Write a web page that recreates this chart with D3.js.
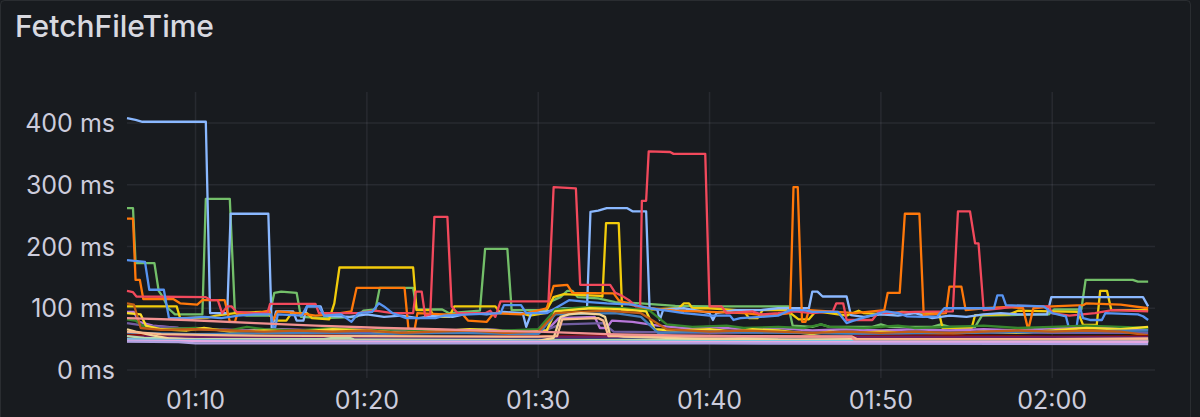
<!DOCTYPE html>
<html>
<head>
<meta charset="utf-8">
<script src="https://cdn.jsdelivr.net/npm/d3@7"></script>
<style>
  html, body { margin: 0; padding: 0; background: #181b1f; }
  svg { display: block; }
  text { font-family: Inter, "Noto Sans", sans-serif; }
</style>
</head>
<body>
<div id="viz"></div>
<script>
// time values are minutes after 01:00, values are ms
const yTicks = [0, 100, 200, 300, 400];

const green = [[6,262],[6.35,262],[6.5,173],[7.6,173],[7.85,128],[8.1,118],[8.4,100],[8.8,90],[10.4,90],[10.6,277],[12.0,277],[12.3,92],[13.0,88],[14.3,88],[14.6,125],[15.0,127],[15.9,125],[16.15,86],[17.5,84],[19.4,86],[19.8,96],[20.5,98],[20.75,133],[22.7,133],[22.9,98],[24.4,98],[24.8,92],[26.6,96],[26.9,196],[28.2,196],[28.45,97],[30.4,97],[30.8,112],[31.3,118],[31.7,128],[32.0,128],[32.3,118],[33.5,116],[34.5,110],[36,108],[38,104],[40,103],[44.6,103],[44.85,72],[46,70],[46.5,74],[47,70],[49.5,70],[50,74],[50.5,70],[53,70],[53.5,74],[54,70],[55.5,70],[55.9,88],[57.5,89],[59.8,90],[60.1,98],[61.7,98],[61.95,146],[64.7,146],[65.0,143],[65.6,143]];

const yellow = [[6,103],[8.9,103],[9.1,84],[10.7,85],[11.2,88],[12.3,92],[13.8,94],[14.3,90],[14.6,80],[15.3,80],[15.6,92],[16.5,92],[16.8,84],[17.8,82],[18.1,108],[18.4,166],[22.7,166],[22.9,97],[23.7,97],[23.95,86],[24.8,86],[25.1,103],[27.5,103],[27.8,92],[29.0,92],[29.5,88],[30.4,92],[30.9,118],[31.5,123],[33.6,120],[33.75,119],[33.96,238],[34.7,238],[34.9,97],[36.5,98],[38.2,100],[38.5,108],[38.8,108],[39.0,100],[40,100],[42,96],[42.3,84],[42.8,84],[43.1,97],[44.5,97],[45.2,82],[45.8,82],[46.2,95],[47,92],[48,88],[48.7,96],[49.0,92],[50.5,90],[51.2,94],[53.4,92],[53.6,68],[55.3,68],[55.5,89],[57.5,90],[58.0,96],[60,95],[61.5,94],[61.8,73],[62.6,73],[62.8,128],[63.2,128],[63.45,97],[65.6,97]];

const lightBlue = [[6,408],[6.5,405],[6.9,402],[10.6,402],[10.85,92],[11.85,92],[12.05,253],[14.25,253],[14.45,65],[14.7,95],[15.7,95],[15.9,80],[16.3,80],[16.5,103],[17.3,103],[17.5,88],[19,86],[20,90],[21,86],[22,88],[23,84],[24,88],[25,86],[26,92],[27,90],[28,94],[29.1,92],[29.3,70],[29.6,92],[30.5,95],[31.5,100],[32.85,100],[33.05,256],[33.5,258],[34,262],[35.2,262],[35.5,257],[36.3,257],[36.5,100],[36.95,98],[37.1,81],[37.3,98],[38.5,100],[39.5,95],[40,92],[40.2,81],[40.4,92],[41.5,97],[43,97],[44,100],[45.8,100],[46.0,127],[46.3,127],[46.6,119],[48.0,119],[48.25,89],[49,86],[50,90],[51,88],[52,92],[53,84],[54,88],[55,86],[56,90],[57,92],[58,90],[59.7,90],[59.95,118],[65.3,118],[65.6,103]];

const orange = [[6,245],[6.35,245],[6.5,146],[6.75,146],[6.95,115],[8.7,115],[9.1,108],[10.1,106],[10.4,113],[11.7,113],[12.0,78],[12.3,78],[12.45,92],[13.5,92],[14.3,96],[14.5,80],[14.8,95],[16,92],[17,88],[18,90],[19.1,95],[19.4,133],[22.2,133],[22.45,60],[22.75,60],[22.95,92],[24.5,90],[25.6,90],[25.9,80],[27,78],[27.4,92],[29,90],[30.5,100],[30.9,136],[31.7,138],[32.0,125],[34.4,124],[34.7,113],[35.5,105],[36.5,100],[38,96],[40,94],[42,92],[43.5,88],[44.7,92],[44.9,296],[45.15,296],[45.4,78],[45.6,78],[45.8,97],[47,95],[48.5,92],[50.2,97],[50.4,125],[51.1,125],[51.4,253],[52.25,253],[52.5,89],[53.8,92],[54.0,135],[54.7,135],[54.95,97],[56,100],[57.5,102],[58.3,100],[58.6,65],[58.9,100],[60,103],[61.8,105],[62,108],[64,106],[65.6,100]];

const red = [[6,128],[6.35,126],[6.55,119],[10.6,118],[10.9,113],[11.3,113],[11.55,92],[11.85,103],[12.1,103],[12.4,94],[13.5,92],[14.2,92],[14.35,107],[17.0,107],[17.2,92],[19.5,92],[20.5,96],[21.5,92],[22.7,92],[22.85,127],[23.2,127],[23.4,88],[23.7,90],[23.94,248],[24.7,248],[24.95,103],[25.3,92],[26.9,92],[27.2,96],[27.5,86],[27.8,111],[30.6,111],[30.9,296],[32.2,294],[32.45,138],[34.2,138],[34.5,125],[34.9,120],[35.3,113],[35.7,103],[35.95,103],[36.05,274],[36.3,274],[36.45,354],[37.7,353],[37.9,350],[39.75,350],[40.0,103],[40.7,103],[41.0,92],[42.5,95],[43,90],[44,92],[45,95],[46,92],[47.2,95],[47.4,108],[47.8,108],[48.0,81],[49.5,81],[49.9,95],[50.1,92],[52,94],[54.2,95],[54.5,257],[55.2,257],[55.5,205],[55.7,205],[56.0,97],[57,100],[58,104],[59.8,103],[60,92],[61,88],[62.5,92],[63.5,97],[65.6,95]];

const blue = [[6,178],[7.05,175],[7.3,130],[8.15,130],[8.45,84],[9.5,84],[10.5,86],[11.5,84],[12.5,88],[13.5,90],[14.4,90],[14.6,62],[14.8,90],[16.2,88],[16.5,103],[17.2,103],[17.5,88],[18.5,90],[19.1,78],[19.5,92],[20.3,94],[20.7,108],[21.0,103],[21.5,92],[22.3,84],[24,84],[24.5,88],[26,90],[27.8,92],[28.0,105],[29.0,105],[29.3,92],[30.5,92],[31.0,100],[31.8,113],[33,110],[34,108],[35.5,106],[36.5,100],[37.5,96],[38.5,92],[40,88],[41.2,88],[41.4,81],[41.8,84],[43,86],[44,88],[44.7,97],[45.5,97],[46,94],[47.5,94],[48.0,76],[48.4,80],[50.3,95],[51,92],[51.5,87],[52.5,86],[53.3,87],[53.7,100],[56.6,100],[56.8,121],[57.1,121],[57.3,105],[59.5,103],[60,92],[60.8,87],[61.0,65],[61.4,65],[61.6,103],[61.8,84],[62.2,81],[62.9,81],[63.1,92],[65,90],[65.3,87],[65.6,81]];

const purple = [[6,94],[6.4,94],[6.7,78],[7.5,72],[9,68],[11,66],[13,64],[15,66],[17,64],[19,66],[21,63],[23,66],[25,64],[27,66],[29,62],[30.5,64],[31.2,84],[33.3,86],[33.6,68],[34.0,68],[34.3,80],[35.5,78],[37,72],[38.5,68],[40,70],[42,66],[44,68],[46,64],[48,66],[50,64],[52,66],[54,64],[56,66],[58,64],[60,68],[62,70],[63,68],[65.6,66]];

const violet = [[6,76],[7,72],[9,68],[12,64],[16,62],[20,61],[25,60],[30,60],[31.3,74],[33.8,76],[34.4,62],[40,60],[45,61],[50,60],[55,61],[60,60],[65.6,60]];

const darkGreen = [[6,82],[6.5,80],[7,70],[8,66],[10,68],[12,64],[13,70],[14,66],[16,64],[18,68],[20,64],[22,66],[24,62],[26,66],[28,64],[30,66],[31,98],[33,102],[35,100],[36.5,96],[37.5,74],[39,70],[41,72],[42,68],[44,70],[45.5,68],[46.5,74],[47,70],[49,68],[51,72],[52,68],[54,70],[56,72],[58,68],[60,70],[62,72],[64,70],[65.6,68]];

const lightYellow = [[6,92],[6.8,90],[7.1,72],[8,66],[9.5,64],[10.5,68],[12,62],[14,64],[16,62],[18,66],[20,64],[22,60],[24,62],[26,66],[27.5,64],[29,60],[30.5,64],[31,95],[33,100],[35,98],[36.3,95],[36.8,66],[38,64],[40,66],[41.5,62],[42.5,66],[44,64],[46,58],[47,62],[48.5,60],[50,62],[52,60],[54,58],[56,62],[58,60],[60,64],[62,68],[64,66],[65.6,70]];

const steelBlue = [[6,60],[10,58],[15,60],[20,58],[25,60],[30,58],[31,90],[34.5,92],[36,86],[37,60],[40,62],[45,60],[50,58],[55,60],[60,62],[65.6,64]];

const darkOrange = [[6,108],[6.4,106],[6.8,68],[8,65],[10,66],[12,64],[14,62],[16,64],[18,62],[20,64],[22,60],[24,62],[26,64],[28,60],[30,62],[31,92],[34,96],[36,92],[37.5,66],[40,62],[42,64],[44,62],[46,60],[48,62],[50,60],[52,62],[54,60],[56,62],[58,64],[60,62],[62,64],[64,62],[65.6,56]];

const darkRed = [[6,57],[12,55],[18,56],[24,54],[30,55],[36,56],[42,54],[48,55],[54,56],[60,54],[65.6,55]];
const darkBlue = [[6,52],[15,51],[30,52],[45,51],[65.6,52]];
const plum = [[6,54],[20,53],[40,54],[65.6,53]];
const dusk = [[6,50],[30,49],[65.6,50]];
const paleGreen = [[6,55],[7,52],[10,50],[17.5,50],[18,52],[19,52],[19.3,49],[30,48],[40,49],[42,51],[44,49],[65.6,48]];
const beige = [[6,66],[6.5,62],[7.5,56],[8.5,51],[10,49],[20,48],[30,47],[30.9,52],[31.3,86],[31.8,90],[32.5,92],[33.6,90],[33.9,86],[34.2,57],[35,54],[40,50],[45,49],[48.3,50],[50,48],[60,47],[65.6,47]];
const cyan = [[6,50],[10,47],[30,46],[50,47],[65.6,46]];
const peach = [[6,62],[8,58],[12,56],[20,55],[30,54],[31.1,55],[31.4,82],[33.5,84],[33.8,80],[34.1,55],[40,54],[48.3,54],[48.6,50],[60,50],[65.6,51]];
const pink = [[6,84],[9.5,81],[13.5,76],[17,72],[21,68],[24,66],[28,63],[30,62],[34,58],[38,56],[42,55],[48.3,54],[48.5,47],[62,47],[65.6,47]];
const sky = [[6,49],[20,47],[40,46],[65.6,46]];
const orchid = [[6,47],[20,46],[40,45],[65.6,45]];
const lavender = [[6,46],[9,45],[10,43],[30,43],[40,43],[65.6,42]];

const series = [
  { data: green, color: "#73BF69" },
  { data: yellow, color: "#F2CC0C" },
  { data: lightBlue, color: "#8AB8FF" },
  { data: orange, color: "#FF780A" },
  { data: red, color: "#F2495C" },
  { data: blue, color: "#5794F2" },
  { data: purple, color: "#B877D9" },
  { data: violet, color: "#705DA0" },
  { data: darkGreen, color: "#37872D" },
  { data: lightYellow, color: "#FADE2A" },
  { data: steelBlue, color: "#447EBC" },
  { data: darkOrange, color: "#C15C17" },
  { data: darkRed, color: "#890F02" },
  { data: darkBlue, color: "#0A437C" },
  { data: plum, color: "#6D1F62" },
  { data: dusk, color: "#584477" },
  { data: paleGreen, color: "#B7DBAB" },
  { data: beige, color: "#F4D598" },
  { data: cyan, color: "#70DBED" },
  { data: peach, color: "#F9BA8F" },
  { data: pink, color: "#F29191" },
  { data: sky, color: "#82B5D8" },
  { data: orchid, color: "#E5A8E2" },
  { data: lavender, color: "#AEA2E0" }
];

document.addEventListener("DOMContentLoaded", () => {

    const width = 1200;
    const height = 417;

    const svg = d3.select("#viz").append("svg")
        .attr("width", width)
        .attr("height", height);

    svg.append("rect")
        .attr("width", width)
        .attr("height", height)
        .attr("fill", "#181b1f");

    // panel border
    svg.append("rect")
        .attr("x", 0.5).attr("y", 0.5)
        .attr("width", 1190).attr("height", 440)
        .attr("rx", 4)
        .attr("fill", "none")
        .attr("stroke", "rgba(204,204,220,0.10)");

    svg.append("text")
        .attr("x", 15).attr("y", 37)
        .attr("font-size", 30)
        .attr("font-weight", 500)
        .attr("fill", "#d8d9e0")
        .text("FetchFileTime");

    const base = new Date(2024, 0, 1, 1, 0, 0);
    const toDate = m => new Date(base.getTime() + m * 60000);

    const x = d3.scaleTime()
        .domain([toDate(6), toDate(66)])
        .range([127, 1155]);

    const y = d3.scaleLinear()
        .domain([0, 400])
        .range([370, 123]);

    const grid = svg.append("g").attr("stroke", "rgba(204,204,220,0.09)").attr("stroke-width", 1.5);
    const xTicks = x.ticks(d3.timeMinute.every(10));

    grid.selectAll(".h").data(yTicks).enter().append("line")
        .attr("x1", 127).attr("x2", 1155)
        .attr("y1", d => y(d)).attr("y2", d => y(d));

    grid.selectAll(".v").data(xTicks).enter().append("line")
        .attr("x1", d => x(d)).attr("x2", d => x(d))
        .attr("y1", 92).attr("y2", 378);

    svg.selectAll(".ylab").data(yTicks).enter().append("text")
        .attr("x", 115)
        .attr("y", d => y(d))
        .attr("dy", "0.36em")
        .attr("text-anchor", "end")
        .attr("font-size", 25)
        .attr("fill", "#ccccdc")
        .text(d => d + " ms");

    svg.selectAll(".xlab").data(xTicks).enter().append("text")
        .attr("x", d => x(d))
        .attr("y", 409)
        .attr("text-anchor", "middle")
        .attr("font-size", 25)
        .attr("fill", "#ccccdc")
        .text(d => d3.timeFormat("%H:%M")(d));

    const line = d3.line()
        .x(d => x(toDate(d[0])))
        .y(d => y(d[1]));

    svg.append("g").selectAll("path")
        .data(series)
        .enter()
        .append("path")
        .attr("d", d => line(d.data))
        .attr("fill", "none")
        .attr("stroke", d => d.color)
        .attr("stroke-width", 2.3)
        .attr("stroke-linejoin", "round");
});
</script>
</body>
</html>
